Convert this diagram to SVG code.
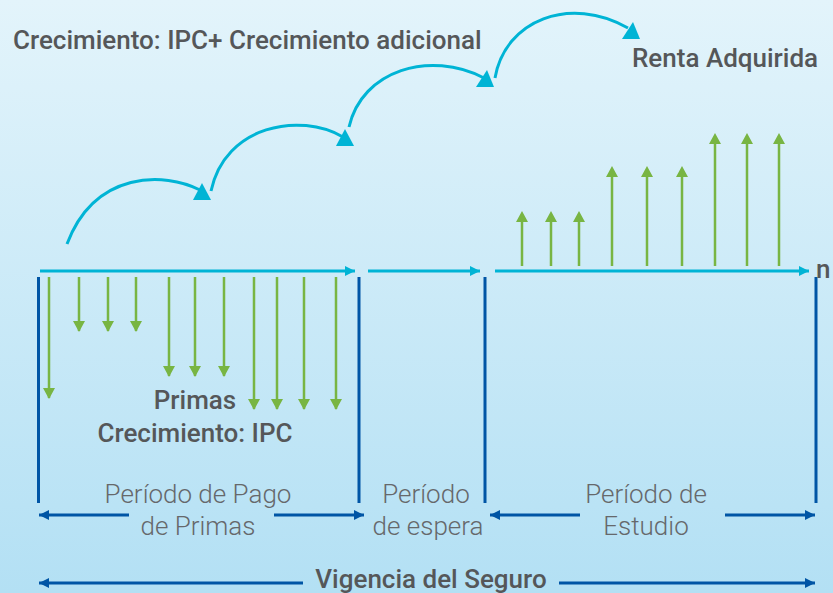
<svg xmlns="http://www.w3.org/2000/svg" width="833" height="593" viewBox="0 0 833 593">
<defs>
<linearGradient id="bg" x1="0" y1="0" x2="0" y2="1">
<stop offset="0" stop-color="#e3f4fb"/>
<stop offset="1" stop-color="#b3e0f4"/>
</linearGradient>
<marker id="ac" markerWidth="10" markerHeight="10" refX="10" refY="5" orient="auto" markerUnits="userSpaceOnUse"><path d="M0,0 L10,5 L0,10 Z" fill="#00b4d5"/></marker>
<marker id="ab" markerWidth="10" markerHeight="10" refX="10" refY="5" orient="auto" markerUnits="userSpaceOnUse"><path d="M0,0 L10,5 L0,10 Z" fill="#0055a5"/></marker>
</defs>
<style>
.cy{stroke:#00b4d5;stroke-width:3;fill:none}
.db{stroke:#0055a5;stroke-width:3;fill:none}
.gr{stroke:#78b543;stroke-width:2.5;fill:none}
.tri{fill:#00b4d5}
.lbl{font-family:Roboto,"Liberation Sans",sans-serif;font-weight:500;fill:#555759;font-size:26px}
.lt{font-family:Roboto,"Liberation Sans",sans-serif;font-weight:300;fill:#66686b;font-size:26px}
</style>
<rect width="833" height="593" fill="url(#bg)"/>
<g id="connectors">
<path class="cy" d="M40,271 H355" marker-end="url(#ac)"/>
<path class="cy" d="M368,271 H480" marker-end="url(#ac)"/>
<path class="cy" d="M495,271 H809" marker-end="url(#ac)"/>
<path class="cy" d="M67,244 C95,170 165,172 200,190"/>
<polygon class="tri" points="202,183 193,200 211,200"/>
<path class="cy" d="M211,191 C225,125 300,112 343,137"/>
<polygon class="tri" points="345,129 336,146 354,146"/>
<path class="cy" d="M349,127 C362,70 430,50 484,78"/>
<polygon class="tri" points="487,70 476,87 494,87"/>
<path class="cy" d="M495,78 C505,20 570,-5 628,28"/>
<polygon class="tri" points="633,22 622,39 640,39"/>
<path class="db" d="M38.5,277 V503 M359,277 V503 M485,277 V503 M816,277 V503"/>
<path class="db" d="M129,515 H39" marker-end="url(#ab)"/>
<path class="db" d="M274,515 H364" marker-end="url(#ab)"/>
<path class="db" d="M580,515 H490" marker-end="url(#ab)"/>
<path class="db" d="M725,515 H815" marker-end="url(#ab)"/>
<path class="db" d="M303,583 H39" marker-end="url(#ab)"/>
<path class="db" d="M559,583 H815" marker-end="url(#ab)"/>
<g id="primas-arrows">
<path class="gr" d="M49,277 V398 M79,277 V331 M108,277 V331 M136,277 V331 M169,277 V376 M195,277 V376 M224,277 V376 M254,277 V409 M277,277 V409 M304,277 V409 M336,277 V409"/>
<path fill="#78b543" d="M43,388 L55,388 L49,399 Z M73,321 L85,321 L79,332 Z M102,321 L114,321 L108,332 Z M130,321 L142,321 L136,332 Z M163,366 L175,366 L169,377 Z M189,366 L201,366 L195,377 Z M218,366 L230,366 L224,377 Z M248,399 L260,399 L254,410 Z M271,399 L283,399 L277,410 Z M298,399 L310,399 L304,410 Z M330,399 L342,399 L336,410 Z"/>
</g>
<g id="renta-arrows">
<path class="gr" d="M522,266 V215 M551,266 V215 M579,266 V215 M612,266 V170 M647,266 V170 M682,266 V170 M715,266 V137 M747,266 V137 M779,266 V137"/>
<path fill="#78b543" d="M516,222 L528,222 L522,211 Z M545,222 L557,222 L551,211 Z M573,222 L585,222 L579,211 Z M606,177 L618,177 L612,166 Z M641,177 L653,177 L647,166 Z M676,177 L688,177 L682,166 Z M709,144 L721,144 L715,133 Z M741,144 L753,144 L747,133 Z M773,144 L785,144 L779,133 Z"/>
</g>
</g>
<g id="title"><text class="lbl" x="13" y="49">Crecimiento: IPC+ Crecimiento adicional</text></g>
<g id="renta"><text class="lbl" x="632" y="67">Renta Adquirida</text></g>
<g id="n"><text class="lbl" x="816" y="278">n</text></g>
<g id="primas"><text class="lbl" x="195" y="409" text-anchor="middle">Primas</text>
<text class="lbl" x="195" y="442" text-anchor="middle">Crecimiento: IPC</text></g>
<g id="periodo-pago"><text class="lt" x="198" y="503" text-anchor="middle">Período de Pago</text>
<text class="lt" x="198" y="535" text-anchor="middle">de Primas</text></g>
<g id="periodo-espera"><text class="lt" x="426" y="503" text-anchor="middle">Período</text>
<text class="lt" x="428" y="535" text-anchor="middle">de espera</text></g>
<g id="periodo-estudio"><text class="lt" x="646" y="503" text-anchor="middle">Período de</text>
<text class="lt" x="646" y="535" text-anchor="middle">Estudio</text></g>
<g id="vigencia"><text class="lbl" x="431" y="588" text-anchor="middle">Vigencia del Seguro</text></g>
</svg>
